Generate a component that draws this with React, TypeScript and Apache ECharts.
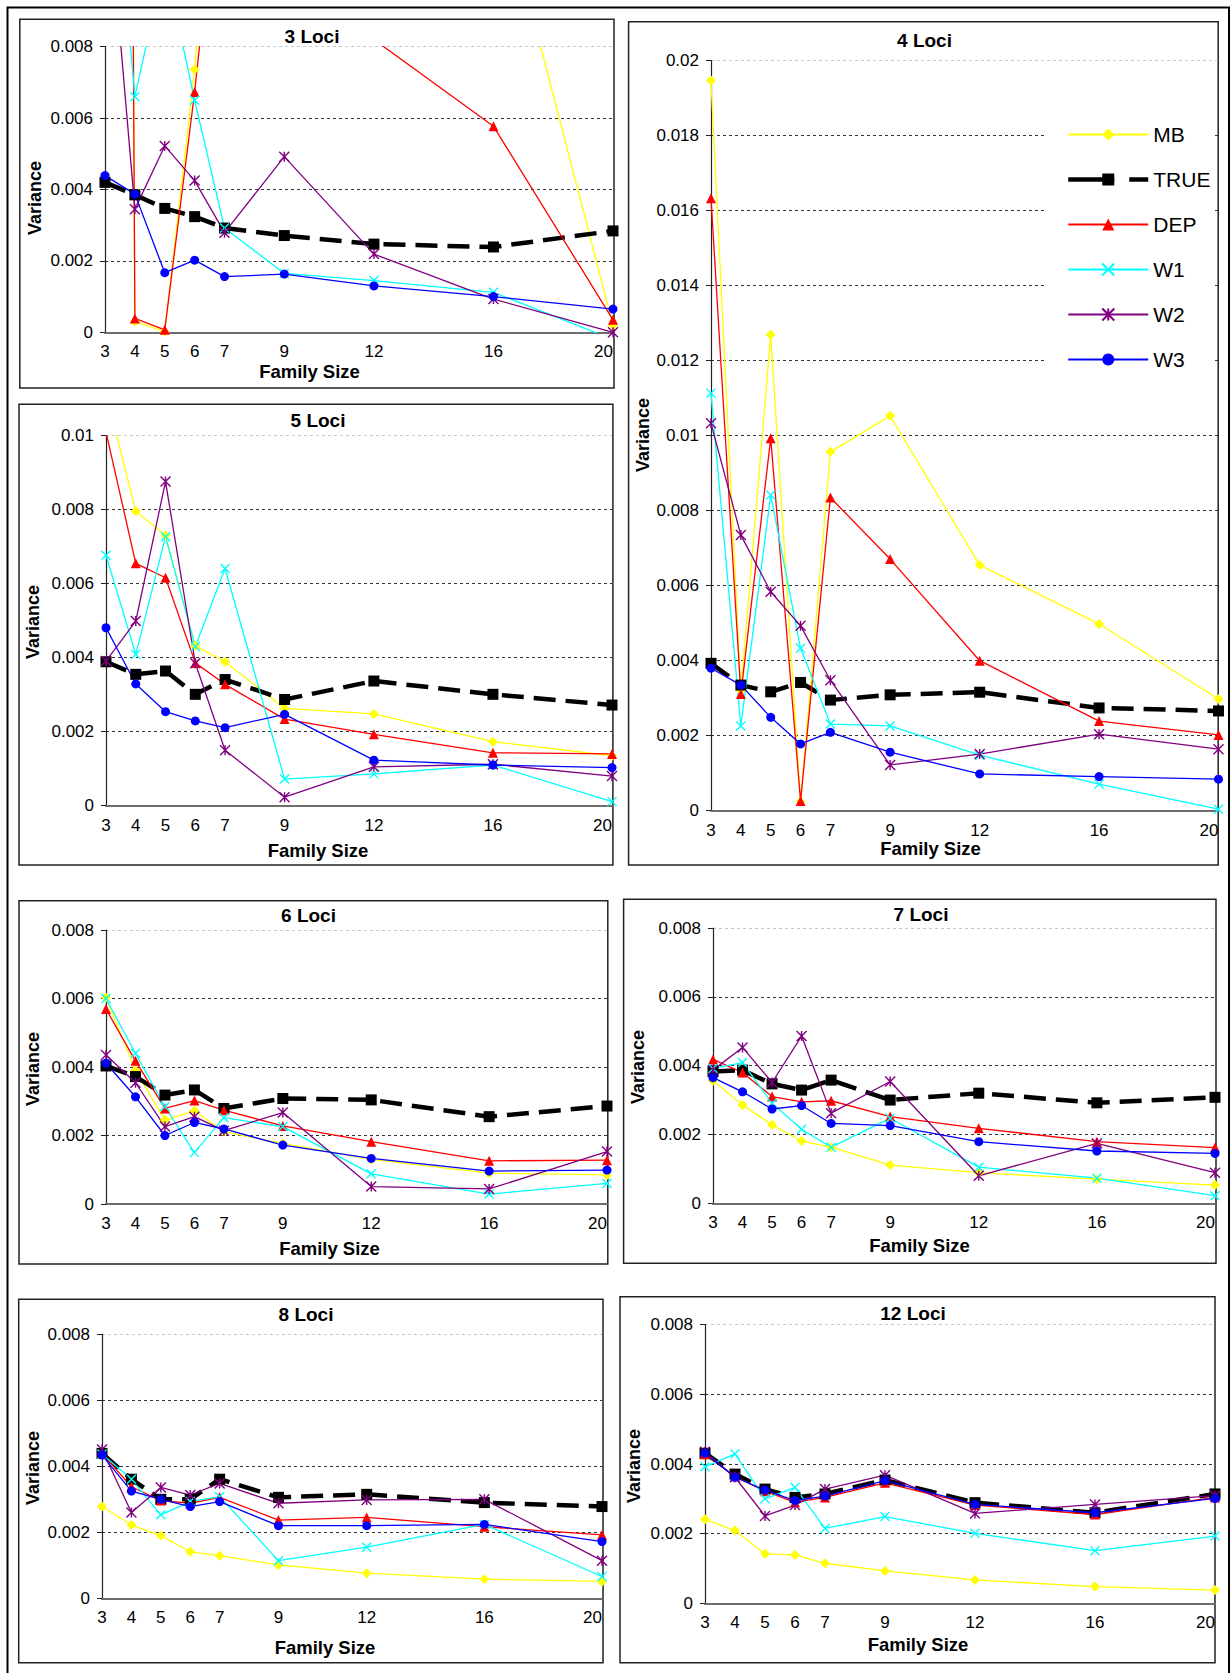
import React, { useEffect, useRef } from "react";
import * as echarts from "echarts";

const familySizes = [3, 4, 5, 6, 7, 9, 12, 16, 20];
const seriesNames = ["MB", "TRUE", "DEP", "W1", "W2", "W3"];
const panelTitles = ["3 Loci", "4 Loci", "5 Loci", "6 Loci", "7 Loci", "8 Loci", "12 Loci"];
const yMaxes = [0.008, 0.02, 0.01, 0.008, 0.008, 0.008, 0.008];

// 3 Loci
const mb3 = [0.16, 0.0003, 0.00002, 0.00736, 0.0165, 0.02, 0.02, 0.0131, 0.0002];
const true3 = [0.0042, 0.00385, 0.00347, 0.00324, 0.00292, 0.00271, 0.00247, 0.00239, 0.00284];
const dep3 = [0.15, 0.00039, 0.00007, 0.00673, 0.0146, 0.012, 0.0082, 0.00577, 0.00035];
const w1_3 = [0.0162, 0.0066, 0.0104, 0.0065, 0.00292, 0.00165, 0.00145, 0.00112, -0.0002];
const w2_3 = [0.0132, 0.00345, 0.00522, 0.00425, 0.00279, 0.00492, 0.00219, 0.00093, 0.0];
const w3_3 = [0.00439, 0.00387, 0.00167, 0.00202, 0.00156, 0.00163, 0.0013, 0.001, 0.00065];

// 4 Loci
const mb4 = [0.01947, 0.0032, 0.01269, 0.00024, 0.00957, 0.01053, 0.00655, 0.00498, 0.00298];
const true4 = [0.00393, 0.00335, 0.00317, 0.00342, 0.00295, 0.00309, 0.00316, 0.00274, 0.00266];
const dep4 = [0.01633, 0.00311, 0.00993, 0.00026, 0.00835, 0.00671, 0.004, 0.00239, 0.00202];
const w1_4 = [0.01113, 0.00226, 0.00842, 0.00433, 0.00231, 0.00226, 0.00148, 0.00071, 0.00004];
const w2_4 = [0.01033, 0.00735, 0.00584, 0.00493, 0.00348, 0.00122, 0.00151, 0.00204, 0.00164];
const w3_4 = [0.0038, 0.00335, 0.00249, 0.00178, 0.00209, 0.00156, 0.00098, 0.00091, 0.00084];

// 5 Loci
const mb5 = [0.01114, 0.00796, 0.0073, 0.00432, 0.00389, 0.00263, 0.00248, 0.00173, 0.00135];
const true5 = [0.00389, 0.00355, 0.00364, 0.00301, 0.00341, 0.00287, 0.00337, 0.00301, 0.00272];
const dep5 = [0.0101, 0.00655, 0.00616, 0.00386, 0.00328, 0.00234, 0.00193, 0.00143, 0.0014];
const w1_5 = [0.00677, 0.00409, 0.00727, 0.0043, 0.00641, 0.00072, 0.00086, 0.0011, 0.00011];
const w2_5 = [0.00391, 0.00499, 0.00876, 0.00385, 0.0015, 0.00023, 0.00105, 0.00112, 0.0008];
const w3_5 = [0.00481, 0.00329, 0.00254, 0.00229, 0.00211, 0.00247, 0.00123, 0.0011, 0.00103];

// 6 Loci
const mb6 = [0.00603, 0.0039, 0.00245, 0.00272, 0.00211, 0.00177, 0.0013, 0.0009, 0.00085];
const true6 = [0.00403, 0.00372, 0.00318, 0.00333, 0.00279, 0.00308, 0.00304, 0.00255, 0.00286];
const dep6 = [0.00569, 0.00418, 0.00279, 0.00302, 0.00274, 0.00228, 0.00182, 0.00126, 0.00128];
const w1_6 = [0.006, 0.0044, 0.00284, 0.0015, 0.00252, 0.00226, 0.00088, 0.00029, 0.0006];
const w2_6 = [0.00435, 0.00354, 0.00226, 0.00255, 0.00214, 0.00267, 0.00051, 0.00044, 0.00153];
const w3_6 = [0.00411, 0.00313, 0.002, 0.00238, 0.00219, 0.00172, 0.00133, 0.00096, 0.00099];

// 7 Loci
const mb7 = [0.00356, 0.00286, 0.00228, 0.00181, 0.00163, 0.00111, 0.00089, 0.0007, 0.00053];
const true7 = [0.00383, 0.00387, 0.00347, 0.00329, 0.00358, 0.003, 0.0032, 0.00292, 0.00308];
const dep7 = [0.00418, 0.0038, 0.0031, 0.00295, 0.00298, 0.00252, 0.00218, 0.00179, 0.00162];
const w1_7 = [0.00392, 0.00409, 0.00291, 0.00215, 0.00163, 0.00247, 0.00105, 0.00073, 0.00022];
const w2_7 = [0.00387, 0.00453, 0.00351, 0.00486, 0.00262, 0.00354, 0.0008, 0.00174, 0.00089];
const w3_7 = [0.00365, 0.00324, 0.00274, 0.00284, 0.00232, 0.00226, 0.00179, 0.00152, 0.00145];

// 8 Loci
const mb8 = [0.00278, 0.00222, 0.0019, 0.00141, 0.00129, 0.00101, 0.00076, 0.00058, 0.00051];
const true8 = [0.00439, 0.00361, 0.003, 0.003, 0.00361, 0.00306, 0.00315, 0.0029, 0.00278];
const dep8 = [0.00439, 0.00338, 0.00296, 0.00288, 0.00306, 0.00237, 0.00245, 0.00217, 0.00192];
const w1_8 = [0.00437, 0.00361, 0.00253, 0.00293, 0.00308, 0.00114, 0.00155, 0.00224, 0.00066];
const w2_8 = [0.00451, 0.0026, 0.00336, 0.00313, 0.00348, 0.00288, 0.00298, 0.003, 0.00114];
const w3_8 = [0.00434, 0.00325, 0.003, 0.00278, 0.00293, 0.0022, 0.0022, 0.00224, 0.00172];

// 12 Loci
const mb12 = [0.00241, 0.00209, 0.00142, 0.00139, 0.00115, 0.00093, 0.00067, 0.00048, 0.00038];
const true12 = [0.00431, 0.00371, 0.00328, 0.00304, 0.00314, 0.00354, 0.00289, 0.0026, 0.00314];
const dep12 = [0.00428, 0.00364, 0.00322, 0.0029, 0.00304, 0.00346, 0.00282, 0.00255, 0.00304];
const w1_12 = [0.00392, 0.00429, 0.003, 0.00333, 0.00215, 0.00249, 0.00201, 0.00151, 0.00193];
const w2_12 = [0.00435, 0.00362, 0.00251, 0.00282, 0.00328, 0.00368, 0.00258, 0.00284, 0.00309];
const w3_12 = [0.00431, 0.00362, 0.00325, 0.00295, 0.00308, 0.00352, 0.00284, 0.0026, 0.00301];

const panelValues = [
  [mb3, true3, dep3, w1_3, w2_3, w3_3],
  [mb4, true4, dep4, w1_4, w2_4, w3_4],
  [mb5, true5, dep5, w1_5, w2_5, w3_5],
  [mb6, true6, dep6, w1_6, w2_6, w3_6],
  [mb7, true7, dep7, w1_7, w2_7, w3_7],
  [mb8, true8, dep8, w1_8, w2_8, w3_8],
  [mb12, true12, dep12, w1_12, w2_12, w3_12],
];

// layout (pixels)
const gridRects = [
  { left: 105, top: 46.7, width: 508, height: 285.6 },
  { left: 711, top: 60.7, width: 507.5, height: 750 },
  { left: 106, top: 435.7, width: 506, height: 370 },
  { left: 106, top: 930, width: 501, height: 274 },
  { left: 713, top: 928, width: 502, height: 275.3 },
  { left: 102, top: 1334.3, width: 500, height: 264 },
  { left: 705, top: 1324.7, width: 510, height: 278.6 },
];
const boxRects = [
  [19.8, 19.3, 614, 388],
  [628.6, 21.7, 1218.2, 865],
  [19, 404.3, 612.9, 865],
  [19, 900.7, 607.8, 1264],
  [623.6, 899.3, 1216, 1263.3],
  [18.7, 1299.3, 603, 1662.7],
  [620, 1296.7, 1215, 1662.7],
];
const titlePos = [
  [312, 36.5], [924.5, 40], [318, 420.5], [308.5, 915.5], [921, 914.5], [306, 1314], [913, 1313],
];
const yNamePos = [
  [35, 198], [643, 435], [33, 622], [33, 1069], [638, 1067], [33, 1468], [633.6, 1466],
];
const xNamePos = [
  [309.5, 371], [930.5, 848], [318, 850.5], [329.5, 1248.5], [919.5, 1245.5], [325, 1647.5], [918, 1644.5],
];

const FONT = '"Liberation Sans", Arial, Helvetica, sans-serif';

const styles = [
  { color: "#FFFF00", symbol: "diamond", size: 10, width: 1.3 },
  { color: "#000000", symbol: "rect", size: 11, width: 4.5, dash: [22, 10] },
  { color: "#FF0000", symbol: "triangle", size: 10, width: 1.3 },
  { color: "#00FFFF", symbol: "path://M0,0L10,10M10,0L0,10", size: 9, width: 1.3, stroke: true },
  { color: "#800080", symbol: "path://M0,0L10,10M10,0L0,10M5,0L5,10", size: 10, width: 1.3, stroke: true },
  { color: "#0000FF", symbol: "circle", size: 9, width: 1.3 },
];

function buildOption() {
  const grid = gridRects.map((g) => ({ ...g, containLabel: false }));
  const xAxis = gridRects.map((_, i) => ({
    gridIndex: i,
    type: "value",
    min: 3,
    max: 20,
    axisLine: { show: true, onZero: false, lineStyle: { color: "#6e6e6e", width: 2 } },
    axisTick: { show: false },
    splitLine: { show: false },
    axisLabel: {
      customValues: familySizes,
      fontSize: 17,
      fontFamily: FONT,
      color: "#000",
      margin: 11,
      alignMaxLabel: "right",
    },
  }));
  const yAxis = yMaxes.map((mx, i) => {
    const n = Math.round(mx / 0.002) + 1;
    const cols = [];
    for (let k = 0; k < n; k++) cols.push(k === n - 1 ? "#c8c8c8" : "#333333");
    return {
      gridIndex: i,
      type: "value",
      min: 0,
      max: mx,
      interval: 0.002,
      axisLine: { show: true, lineStyle: { color: "#222", width: 1.2 } },
      axisTick: { show: true, length: 5, lineStyle: { color: "#222" } },
      axisLabel: { fontSize: 17, fontFamily: FONT, color: "#000", margin: 12 },
      splitLine: { show: true, lineStyle: { type: [3, 3], color: cols, width: 1 } },
    };
  });
  const series = [];
  panelValues.forEach((vals, i) => {
    vals.forEach((arr, j) => {
      const s = styles[j];
      series.push({
        type: "line",
        name: seriesNames[j],
        xAxisIndex: i,
        yAxisIndex: i,
        data: familySizes.map((x, k) => [x, arr[k]]),
        symbol: s.symbol,
        symbolSize: s.size,
        clip: true,
        silent: true,
        lineStyle: { color: s.color, width: s.width, type: s.dash ? s.dash : "solid" },
        itemStyle: s.stroke
          ? { color: s.color, borderColor: s.color, borderWidth: 1.4 }
          : { color: s.color, borderWidth: 0 },
        emphasis: { disabled: true },
      });
    });
  });

  const graphics = [];
  graphics.push({
    type: "rect",
    shape: { x: 7.5, y: 7.5, width: 1221.5, height: 1700 },
    style: { fill: "none", stroke: "#000", lineWidth: 2 },
    silent: true,
  });
  boxRects.forEach((b) => {
    graphics.push({
      type: "rect",
      shape: { x: b[0], y: b[1], width: b[2] - b[0], height: b[3] - b[1] },
      style: { fill: "none", stroke: "#222", lineWidth: 1.5 },
      silent: true,
    });
  });
  panelTitles.forEach((t, i) => {
    graphics.push({
      type: "text",
      x: titlePos[i][0],
      y: titlePos[i][1],
      style: { text: t, fill: "#000", fontSize: 19, fontWeight: "bold", fontFamily: FONT, align: "center", verticalAlign: "middle" },
      silent: true,
    });
    graphics.push({
      type: "text",
      x: yNamePos[i][0],
      y: yNamePos[i][1],
      rotation: Math.PI / 2,
      style: { text: "Variance", fill: "#000", fontSize: 18, fontWeight: "bold", fontFamily: FONT, align: "center", verticalAlign: "middle" },
      silent: true,
    });
    graphics.push({
      type: "text",
      x: xNamePos[i][0],
      y: xNamePos[i][1],
      style: { text: "Family Size", fill: "#000", fontSize: 18.5, fontWeight: "bold", fontFamily: FONT, align: "center", verticalAlign: "middle" },
      silent: true,
    });
  });

  const legendData = seriesNames.map((n) =>
    n === "TRUE" ? { name: n, lineStyle: { type: [46, 15, 40, 10], width: 4.5, color: "#000" } } : { name: n }
  );

  return {
    animation: false,
    backgroundColor: "#ffffff",
    textStyle: { fontFamily: FONT },
    grid,
    xAxis,
    yAxis,
    legend: {
      data: legendData,
      orient: "vertical",
      left: 1045,
      top: 105,
      padding: [19, 4, 22, 21],
      itemWidth: 80,
      itemHeight: 15,
      itemGap: 24,
      backgroundColor: "#ffffff",
      selectedMode: false,
      textStyle: { fontSize: 21, color: "#000", fontFamily: FONT },
    },
    graphic: graphics,
    series,
  };
}

export default function App() {
  const ref = useRef<HTMLDivElement>(null);
  useEffect(() => {
    if (!ref.current) return;
    const chart = echarts.init(ref.current, undefined, { renderer: "svg" });
    chart.setOption(buildOption());
    return () => chart.dispose();
  }, []);
  return (
    <div
      ref={ref}
      style={{ position: "absolute", left: 0, top: 0, width: 1231, height: 1673, background: "#fff" }}
    />
  );
}
